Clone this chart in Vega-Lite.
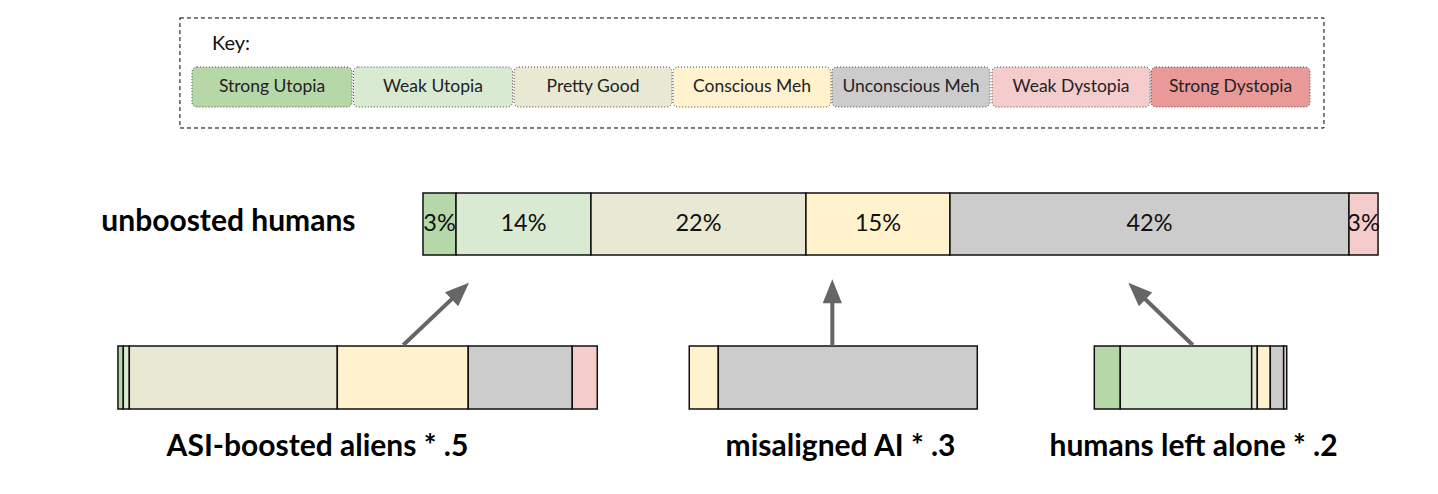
{
  "$schema": "https://vega.github.io/schema/vega-lite/v6.json",
  "autosize": {"type": "fit", "contains": "padding"},
  "width": 1438,
  "height": 494,
  "padding": 0,
  "background": "white",
  "config": {"view": {"stroke": null}, "font": "Lato"},
  "datasets": {
    "legendItems": [
      {"category": "Strong Utopia", "start": -24.19, "end": -7.43},
      {"category": "Weak Utopia", "start": -7.28, "end": 9.37},
      {"category": "Pretty Good", "start": 9.53, "end": 26.07},
      {"category": "Conscious Meh", "start": 26.18, "end": 42.72},
      {"category": "Unconscious Meh", "start": 42.83, "end": 59.37},
      {"category": "Weak Dystopia", "start": 59.58, "end": 76.13},
      {"category": "Strong Dystopia", "start": 76.23, "end": 92.88}
    ],
    "topBar": [
      {"category": "Strong Utopia", "start": 0, "end": 3.46, "label": "3%"},
      {"category": "Weak Utopia", "start": 3.46, "end": 17.59, "label": "14%"},
      {"category": "Pretty Good", "start": 17.59, "end": 40.1, "label": "22%"},
      {"category": "Conscious Meh", "start": 40.1, "end": 55.18, "label": "15%"},
      {"category": "Unconscious Meh", "start": 55.18, "end": 96.96, "label": "42%"},
      {"category": "Weak Dystopia", "start": 96.96, "end": 100, "label": "3%"}
    ],
    "subBars": [
      {"group": "ASI-boosted aliens", "category": "Strong Utopia", "start": -31.94, "end": -31.38},
      {"group": "ASI-boosted aliens", "category": "Weak Utopia", "start": -31.38, "end": -30.75},
      {"group": "ASI-boosted aliens", "category": "Pretty Good", "start": -30.75, "end": -8.97},
      {"group": "ASI-boosted aliens", "category": "Conscious Meh", "start": -8.97, "end": 4.74},
      {"group": "ASI-boosted aliens", "category": "Unconscious Meh", "start": 4.74, "end": 15.63},
      {"group": "ASI-boosted aliens", "category": "Weak Dystopia", "start": 15.63, "end": 18.25},
      {"group": "misaligned AI", "category": "Conscious Meh", "start": 27.88, "end": 30.92},
      {"group": "misaligned AI", "category": "Unconscious Meh", "start": 30.92, "end": 58.04},
      {"group": "humans left alone", "category": "Strong Utopia", "start": 70.29, "end": 73.01},
      {"group": "humans left alone", "category": "Weak Utopia", "start": 73.01, "end": 86.77},
      {"group": "humans left alone", "category": "Pretty Good", "start": 86.77, "end": 87.36},
      {"group": "humans left alone", "category": "Conscious Meh", "start": 87.36, "end": 88.72},
      {"group": "humans left alone", "category": "Unconscious Meh", "start": 88.72, "end": 90.12},
      {"group": "humans left alone", "category": "Weak Dystopia", "start": 90.12, "end": 90.44}
    ],
    "arrows": [
      {"group": "ASI-boosted aliens", "tailX": -2.06, "tailY": 69.84, "baseX": 3.45, "baseY": 59.74, "tipX": 4.82, "tipY": 57.23, "angle": 46.5},
      {"group": "misaligned AI", "tailX": 42.86, "tailY": 70.04, "baseX": 42.86, "baseY": 60.18, "tipX": 42.86, "tipY": 56.54, "angle": 0},
      {"group": "humans left alone", "tailX": 80.6, "tailY": 69.84, "baseX": 75.2, "baseY": 59.76, "tipX": 73.85, "tipY": 57.23, "angle": -46}
    ],
    "bottomLabels": [
      {"text": "ASI-boosted aliens * .5", "x": -11.05, "y": 90.49},
      {"text": "misaligned AI * .3", "x": 43.72, "y": 90.49},
      {"text": "humans left alone * .2", "x": 80.68, "y": 90.49}
    ]
  },
  "resolve": {"scale": {"x": "shared", "y": "shared", "color": "shared"}},
  "layer": [
    {
      "data": {"values": [{"box": "key"}]},
      "mark": {"type": "rect", "fill": "white", "stroke": "#000", "strokeWidth": 1, "strokeDash": [4, 3]},
      "encoding": {
        "x": {"datum": -25.45, "type": "quantitative", "scale": {"domain": [-44.29, 106.28], "nice": false, "zero": false}, "axis": null},
        "x2": {"datum": 94.34},
        "y": {"datum": 3.64, "type": "quantitative", "scale": {"domain": [0, 100], "nice": false, "zero": false, "reverse": true}, "axis": null},
        "y2": {"datum": 25.91}
      }
    },
    {
      "data": {"values": [{"text": "Key:"}]},
      "mark": {"type": "text", "align": "left", "baseline": "middle", "fontSize": 20, "color": "#111"},
      "encoding": {
        "x": {"datum": -22.09, "type": "quantitative"},
        "y": {"datum": 8.91, "type": "quantitative"},
        "text": {"field": "text"}
      }
    },
    {
      "data": {"name": "legendItems"},
      "mark": {"type": "rect", "cornerRadius": 5, "stroke": "#444", "strokeWidth": 1, "strokeDash": [1, 2]},
      "encoding": {
        "x": {"field": "start", "type": "quantitative"},
        "x2": {"field": "end"},
        "y": {"datum": 13.56, "type": "quantitative"},
        "y2": {"datum": 21.66},
        "color": {
          "field": "category",
          "type": "nominal",
          "legend": null,
          "scale": {
            "domain": ["Strong Utopia", "Weak Utopia", "Pretty Good", "Conscious Meh", "Unconscious Meh", "Weak Dystopia", "Strong Dystopia"],
            "range": ["#b6d7a8", "#d9ead3", "#e9e8d2", "#fff2cc", "#cccccc", "#f4cccc", "#ea9999"]
          }
        }
      }
    },
    {
      "data": {"name": "legendItems"},
      "transform": [{"calculate": "(datum.start + datum.end) / 2", "as": "mid"}],
      "mark": {"type": "text", "align": "center", "baseline": "middle", "fontSize": 17.5, "color": "#222"},
      "encoding": {
        "x": {"field": "mid", "type": "quantitative"},
        "y": {"datum": 17.61, "type": "quantitative"},
        "text": {"field": "category"}
      }
    },
    {
      "data": {"name": "topBar"},
      "mark": {"type": "rect", "stroke": "#111", "strokeWidth": 1.5},
      "encoding": {
        "x": {"field": "start", "type": "quantitative"},
        "x2": {"field": "end"},
        "y": {"datum": 39.07, "type": "quantitative"},
        "y2": {"datum": 51.62},
        "color": {"field": "category", "type": "nominal", "legend": null}
      }
    },
    {
      "data": {"name": "topBar"},
      "transform": [{"calculate": "(datum.start + datum.end) / 2", "as": "mid"}],
      "mark": {"type": "text", "align": "center", "baseline": "middle", "fontSize": 23.5, "color": "#111"},
      "encoding": {
        "x": {"field": "mid", "type": "quantitative"},
        "y": {"datum": 45.34, "type": "quantitative"},
        "text": {"field": "label"}
      }
    },
    {
      "data": {"values": [{"text": "unboosted humans"}]},
      "mark": {"type": "text", "align": "center", "baseline": "middle", "fontSize": 30, "fontWeight": "bold", "color": "#000"},
      "encoding": {
        "x": {"datum": -20.37, "type": "quantitative"},
        "y": {"datum": 44.94, "type": "quantitative"},
        "text": {"field": "text"}
      }
    },
    {
      "data": {"name": "subBars"},
      "mark": {"type": "rect", "stroke": "#111", "strokeWidth": 1.5},
      "encoding": {
        "x": {"field": "start", "type": "quantitative"},
        "x2": {"field": "end"},
        "y": {"datum": 70.04, "type": "quantitative"},
        "y2": {"datum": 82.79},
        "color": {"field": "category", "type": "nominal", "legend": null}
      }
    },
    {
      "data": {"name": "arrows"},
      "mark": {"type": "rule", "color": "#666", "strokeWidth": 4},
      "encoding": {
        "x": {"field": "tailX", "type": "quantitative"},
        "y": {"field": "tailY", "type": "quantitative"},
        "x2": {"field": "baseX"},
        "y2": {"field": "baseY"}
      }
    },
    {
      "data": {"name": "arrows"},
      "mark": {"type": "point", "shape": "M0,0L0.8,2L-0.8,2Z", "filled": true, "color": "#666", "opacity": 1, "size": 576, "strokeWidth": 0},
      "encoding": {
        "x": {"field": "tipX", "type": "quantitative"},
        "y": {"field": "tipY", "type": "quantitative"},
        "angle": {"field": "angle", "type": "quantitative", "scale": null}
      }
    },
    {
      "data": {"name": "bottomLabels"},
      "mark": {"type": "text", "align": "center", "baseline": "middle", "fontSize": 30, "fontWeight": "bold", "color": "#000"},
      "encoding": {
        "x": {"field": "x", "type": "quantitative"},
        "y": {"field": "y", "type": "quantitative"},
        "text": {"field": "text"}
      }
    }
  ]
}
